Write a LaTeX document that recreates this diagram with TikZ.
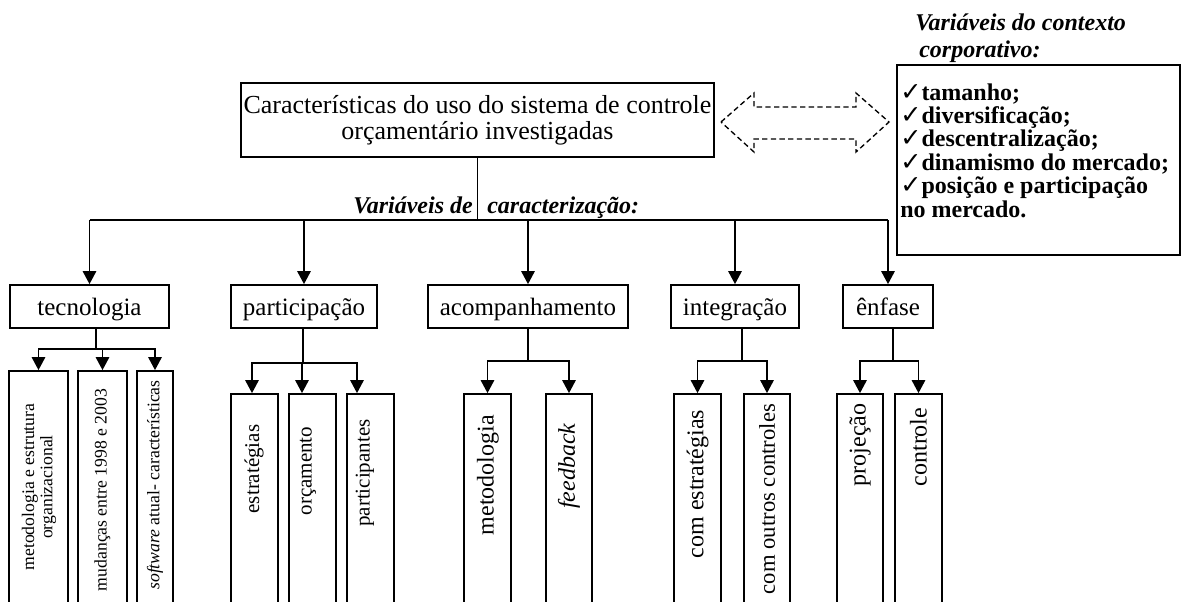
\documentclass[tikz,border=0pt]{standalone}
\usepackage{fontspec}
\setmainfont{Liberation Serif}
\newfontfamily\dejavu{DejaVu Sans}
\usetikzlibrary{arrows.meta}
\newlength\px \setlength\px{0.75pt}
\newcommand\chk{{\dejavu\fontsize{19pt}{19pt}\selectfont ✓}}
\begin{document}
\begin{tikzpicture}[x=0.75pt,y=-0.75pt,
  ln/.style={line width=1.4pt},
  bx/.style={draw, line width=1.3pt, rectangle, inner sep=0pt},
  arr/.style={ln, -{Triangle[length=9.75pt,width=10pt]}},
  lbl/.style={font=\fontsize{18.75pt}{20pt}\selectfont, inner sep=0pt, text height=17pt, text depth=3pt},
  tsub/.style={rotate=90, inner sep=0pt, align=center, font=\fontsize{13.25pt}{13.75pt}\selectfont},
  psub/.style={rotate=90, inner sep=0pt, font=\fontsize{15.75pt}{16pt}\selectfont},
  osub/.style={rotate=90, inner sep=0pt, font=\fontsize{18pt}{18pt}\selectfont},
  ctxt/.style={anchor=base west, inner sep=0pt, font=\bfseries\fontsize{18pt}{20pt}\selectfont},
  ttl/.style={inner sep=0pt, font=\bfseries\itshape\fontsize{18pt}{20pt}\selectfont},
  dsh/.style={line width=1pt, dash pattern=on 4pt off 2.5pt}
]
\useasboundingbox (0,0) rectangle (1181,601);

% main box
\node[bx, minimum width=473\px, minimum height=74\px] (main) at (477.5,120) {};
\node[inner sep=0pt, align=center, font=\fontsize{19.5pt}{19.5pt}\selectfont] (maintxt) at (main.center)
  {Características do uso do sistema de controle\\orçamentário investigadas};

% dashed double arrow
\draw[dsh] (721,122) -- (754,93) -- (754,107) -- (856,107) -- (856,93) -- (889,122)
  -- (856,152) -- (856,139) -- (754,139) -- (754,152) -- cycle;

% context box
\node[ttl, anchor=base west] (ctitle1) at (915,30) {Variáveis do contexto};
\node[ttl, anchor=base west] (ctitle2) at (919,57) {corporativo:};
\node[bx, minimum width=283\px, minimum height=190\px] (ctx) at (1038.5,160) {};
\node[ctxt] (c1) at (900,100) {\chk tamanho;};
\node[ctxt] (c2) at (900,123.4) {\chk diversificação;};
\node[ctxt] (c3) at (900,146.8) {\chk descentralização;};
\node[ctxt] (c4) at (900,170.2) {\chk dinamismo do mercado;};
\node[ctxt] (c5) at (900,193.6) {\chk posição e participação};
\node[ctxt] (c6) at (900,217) {no mercado.};

% row 2 boxes
\node[bx, lbl, minimum width=159\px, minimum height=43\px] (tec) at (89.5,306.5) {tecnologia};
\node[bx, lbl, minimum width=146\px, minimum height=43\px] (par) at (304,306.5) {participação};
\node[bx, lbl, minimum width=200\px, minimum height=43\px] (aco) at (528,306.5) {acompanhamento};
\node[bx, lbl, minimum width=128\px, minimum height=43\px] (int) at (735,306.5) {integração};
\node[bx, lbl, minimum width=90\px, minimum height=43\px] (enf) at (888,306.5) {ênfase};

% main connectors
\coordinate (bus) at (main.south |- 0,220);
\draw[ln] (main.south) -- (bus);
\draw[ln] (tec.north |- bus) -- (enf.north |- bus);
\foreach \n in {tec,par,aco,int,enf} \draw[arr] (\n.north |- bus) -- (\n.north);
\node[ttl, anchor=base east] (vc1) at (473,213) {Variáveis de};
\node[ttl, anchor=base west] (vc2) at (487,213) {caracterização:};

% sub boxes: tecnologia
\node[bx, minimum width=59\px, minimum height=232\px] (ta) at (38.5,487) {};
\node[bx, minimum width=49\px, minimum height=232\px] (tb) at (102.5,487) {};
\node[bx, minimum width=36\px, minimum height=232\px] (tc) at (155,487) {};
\node[tsub] (tat) at (39,487) {metodologia e estrutura\\organizacional};
\node[tsub] (tbt) at (102.5,490) {mudanças entre 1998 e 2003};
\node[tsub] (tct) at (155,485) {\textit{software} atual- características};
\coordinate (tj) at (96,349);
\draw[ln] (tj |- tec.south) -- (tj);
\foreach \s in {ta,tb,tc} \draw[arr] (tj) -| (\s.north);

% sub boxes: participacao
\node[bx, minimum width=47\px, minimum height=209\px] (pa) at (254.5,498.5) {};
\node[bx, minimum width=47\px, minimum height=209\px] (pb) at (312.5,498.5) {};
\node[bx, minimum width=47\px, minimum height=209\px] (pc) at (370.5,498.5) {};
\node[psub] (pat) at (254,469) {estratégias};
\node[psub] (pbt) at (308,471) {orçamento};
\node[psub] (pct) at (365,473) {participantes};
\coordinate (pj) at (303,363);
\draw[ln] (pj |- par.south) -- (pj);
\draw[arr] (pj) -| ([xshift=-2.5\px]pa.north);
\draw[arr] (pj) -| ([xshift=-10.5\px]pb.north);
\draw[arr] (pj) -| ([xshift=-13.5\px]pc.north);

% sub boxes: acompanhamento
\node[bx, minimum width=47\px, minimum height=209\px] (aa) at (487.5,498.5) {};
\node[bx, minimum width=46\px, minimum height=209\px] (ab) at (569,498.5) {};
\node[osub] (aat) at (488,475) {metodologia};
\node[osub] (abt) at (569,466) {\textit{feedback}};
\coordinate (aj) at (528,361);
\draw[ln] (aj |- aco.south) -- (aj);
\foreach \s in {aa,ab} \draw[arr] (aj) -| (\s.north);

% sub boxes: integracao
\node[bx, minimum width=47\px, minimum height=209\px] (ia) at (697.5,498.5) {};
\node[bx, minimum width=46\px, minimum height=209\px] (ib) at (767,498.5) {};
\node[osub] (iat) at (697.5,484) {com estratégias};
\node[osub, font=\fontsize{17pt}{17pt}\selectfont] (ibt) at (767,499) {com outros controles};
\coordinate (ij) at (742,361);
\draw[ln] (ij |- int.south) -- (ij);
\foreach \s in {ia,ib} \draw[arr] (ij) -| (\s.north);

% sub boxes: enfase
\node[bx, minimum width=46\px, minimum height=209\px] (ea) at (860,498.5) {};
\node[bx, minimum width=47\px, minimum height=209\px] (eb) at (918.5,498.5) {};
\node[osub] (eat) at (860,445) {projeção};
\node[osub] (ebt) at (918.5,447) {controle};
\coordinate (ej) at (893,361);
\draw[ln] (ej |- enf.south) -- (ej);
\foreach \s in {ea,eb} \draw[arr] (ej) -| (\s.north);
\end{tikzpicture}
\end{document}
